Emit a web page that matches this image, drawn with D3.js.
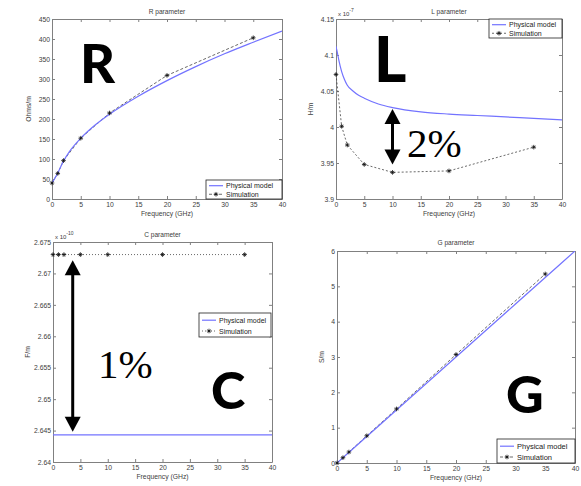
<!DOCTYPE html>
<html><head><meta charset="utf-8">
<script src="https://cdn.jsdelivr.net/npm/d3@7"></script>
<style>
body{margin:0;background:#fff}
svg{display:block}
text{font-family:"Liberation Sans",Arial,Helvetica,sans-serif}
</style>
</head><body>
<svg id="chart" width="581" height="486"></svg>
<script>
// ---------- data ----------
const xTicks = [0, 5, 10, 15, 20, 25, 30, 35, 40];
const simFreq = [0, 1, 2, 5, 10, 20, 35];

const rModelFreq = [0, 0.5, 1, 2, 3, 5, 7.5, 10, 15, 20, 25, 30, 35, 40];
const rModel = [40, 52, 65, 95, 118, 152, 185, 212, 257, 296, 331, 363, 392, 420];
const rSim = [40, 64, 96, 152, 215, 309, 403];
const rTicks = [0, 50, 100, 150, 200, 250, 300, 350, 400, 450];

const lModelFreq = [0, 0.25, 0.5, 1, 1.5, 2, 3, 4, 5, 7.5, 10, 15, 20, 25, 30, 35, 40];
const lModel = [4.112, 4.103, 4.093, 4.077, 4.066, 4.058, 4.050, 4.044, 4.040, 4.032, 4.027, 4.021, 4.018, 4.016, 4.014, 4.012, 4.010];
const lSim = [4.073, 4.001, 3.975, 3.948, 3.937, 3.939, 3.972];
const lTicks = [3.9, 3.95, 4, 4.05, 4.1, 4.15];

const cModelFreq = [0, 40];
const cModel = [2.6443, 2.6443];
const cSim = [2.673, 2.673, 2.673, 2.673, 2.673, 2.673, 2.673];
const cTicks = [2.64, 2.645, 2.65, 2.655, 2.66, 2.665, 2.67, 2.675];

const gModelFreq = [0, 5, 10, 15, 20, 25, 30, 35, 40];
const gModel = [0, 0.75, 1.5, 2.25, 3.0, 3.75, 4.5, 5.25, 6.0];
const gSim = [0, 0.15, 0.31, 0.77, 1.53, 3.07, 5.35];
const gTicks = [0, 1, 2, 3, 4, 5, 6];

const legendLabels = ["Physical model", "Simulation"];

// ---------- drawing ----------
const svg = d3.select("#chart");
const AXIS = "#808080", TXT = "#404040", BLUE = "#7373ff";
const fmt = v => String(+v.toFixed(4));

function star(s, cx, cy) {
  const a = 2.3, b = 1.5;
  s.append("path")
    .attr("d", `M${cx - a},${cy}H${cx + a}M${cx},${cy - a}V${cy + a}M${cx - b},${cy - b}L${cx + b},${cy + b}M${cx - b},${cy + b}L${cx + b},${cy - b}`)
    .attr("stroke", "#111").attr("stroke-width", 0.8).attr("fill", "none");
}

function arrow(g, x, y1, y2) {
  const hw = 8, hl = 15;
  g.append("line").attr("x1", x).attr("x2", x).attr("y1", y1 + hl - 2).attr("y2", y2 - hl + 2)
    .attr("stroke", "#000").attr("stroke-width", 3);
  g.append("path").attr("d", `M${x},${y1}L${x - hw},${y1 + hl}L${x + hw},${y1 + hl}Z`).attr("fill", "#000");
  g.append("path").attr("d", `M${x},${y2}L${x - hw},${y2 - hl}L${x + hw},${y2 - hl}Z`).attr("fill", "#000");
}

function panel(c) {
  const g = svg.append("g");
  const x = d3.scaleLinear().domain([0, 40]).range([c.l, c.r]);
  const y = d3.scaleLinear().domain([c.yTicks[0], c.yTicks[c.yTicks.length - 1]]).range([c.b, c.t]);

  g.append("rect").attr("x", c.l).attr("y", c.t).attr("width", c.r - c.l).attr("height", c.b - c.t)
    .attr("fill", "#fff");

  const styleAxis = sel => {
    sel.selectAll("path.domain").attr("stroke", AXIS).attr("stroke-width", 1);
    sel.selectAll(".tick line").attr("stroke", AXIS).attr("stroke-width", 1);
    sel.selectAll(".tick text").attr("fill", TXT).style("font-size", "6.8px")
      .style("font-family", '"Liberation Sans",Arial,sans-serif');
  };
  g.append("g").attr("transform", `translate(0,${c.b})`)
    .call(d3.axisBottom(x).tickValues(xTicks).tickFormat(fmt).tickSizeInner(-3).tickSizeOuter(0).tickPadding(3))
    .call(styleAxis);
  g.append("g").attr("transform", `translate(0,${c.t})`)
    .call(d3.axisTop(x).tickValues(xTicks).tickFormat("").tickSizeInner(-3).tickSizeOuter(0))
    .call(styleAxis);
  g.append("g").attr("transform", `translate(${c.l},0)`)
    .call(d3.axisLeft(y).tickValues(c.yTicks).tickFormat(fmt).tickSizeInner(-3).tickSizeOuter(0).tickPadding(2))
    .call(styleAxis);
  g.append("g").attr("transform", `translate(${c.r},0)`)
    .call(d3.axisRight(y).tickValues(c.yTicks).tickFormat("").tickSizeInner(-3).tickSizeOuter(0))
    .call(styleAxis);

  // title & labels
  g.append("text").attr("x", (c.l + c.r) / 2).attr("y", c.titleY).attr("text-anchor", "middle")
    .attr("fill", TXT).style("font-size", "6.6px").text(c.title);
  g.append("text").attr("x", (c.l + c.r) / 2).attr("y", c.b + 17).attr("text-anchor", "middle")
    .attr("fill", TXT).style("font-size", "6.8px").text("Frequency (GHz)");
  g.append("text").attr("transform", `translate(${c.yLabelX},${(c.t + c.b) / 2}) rotate(-90)`)
    .attr("text-anchor", "middle").attr("fill", TXT).style("font-size", "6.8px").text(c.yLabel);
  if (c.exp) {
    const e = g.append("text").attr("x", c.l + 2).attr("y", c.t - 3).attr("fill", TXT).style("font-size", "6px");
    e.append("tspan").text("x 10");
    e.append("tspan").attr("dy", -4).style("font-size", "5px").text(c.exp);
  }

  // clip
  const cid = "clip" + c.title[0];
  svg.append("clipPath").attr("id", cid).append("rect")
    .attr("x", c.l).attr("y", c.t).attr("width", c.r - c.l).attr("height", c.b - c.t);
  const plot = g.append("g").attr("clip-path", `url(#${cid})`);

  const line = d3.line().x(d => x(d[0])).y(d => y(d[1]));
  plot.append("path").datum(c.simF.map((f, i) => [f, c.sim[i]]))
    .attr("d", line).attr("fill", "none").attr("stroke", "#444").attr("stroke-width", 0.8)
    .attr("stroke-dasharray", c.dash);
  plot.append("path").datum(c.modelF.map((f, i) => [f, c.model[i]]))
    .attr("d", line.curve(d3.curveMonotoneX)).attr("fill", "none").attr("stroke", BLUE).attr("stroke-width", 1.2);
  const mk = g.append("g");
  c.simF.forEach((f, i) => star(mk, x(f), y(c.sim[i])));

  // legend
  const L = c.leg;
  const lg = g.append("g");
  lg.append("rect").attr("x", L.x).attr("y", L.y).attr("width", L.w).attr("height", L.h)
    .attr("fill", "#fff").attr("stroke", "#222").attr("stroke-width", 0.8);
  const r1 = L.y + L.h * 0.3, r2 = L.y + L.h * 0.75;
  lg.append("line").attr("x1", L.x + 3).attr("x2", L.x + 17).attr("y1", r1).attr("y2", r1)
    .attr("stroke", BLUE).attr("stroke-width", 1.2);
  lg.append("line").attr("x1", L.x + 3).attr("x2", L.x + 17).attr("y1", r2).attr("y2", r2)
    .attr("stroke", "#444").attr("stroke-width", 0.8).attr("stroke-dasharray", c.dash);
  star(lg, L.x + 10, r2);
  lg.append("text").attr("x", L.x + 20).attr("y", r1 + 2.5).attr("fill", "#222").style("font-size", L.fs + "px").text(legendLabels[0]);
  lg.append("text").attr("x", L.x + 20).attr("y", r2 + 2.5).attr("fill", "#222").style("font-size", L.fs + "px").text(legendLabels[1]);

  return {g, x, y};
}

const R = panel({l: 52, r: 282, t: 19, b: 199, yTicks: rTicks, title: "R parameter", titleY: 14, yLabel: "Ohms/m", yLabelX: 31,
  modelF: rModelFreq, model: rModel, simF: simFreq, sim: rSim, dash: "3,2",
  leg: {x: 206, y: 180, w: 76, h: 19, fs: 7}});
const Lp = panel({l: 336, r: 562, t: 19, b: 199, yTicks: lTicks, title: "L parameter", titleY: 14, yLabel: "H/m", yLabelX: 313, exp: "-7",
  modelF: lModelFreq, model: lModel, simF: simFreq, sim: lSim, dash: "2,2",
  leg: {x: 489, y: 19, w: 73, h: 19, fs: 7}});
const C = panel({l: 53, r: 272, t: 242, b: 462, yTicks: cTicks, title: "C parameter", titleY: 237, yLabel: "F/m", yLabelX: 30, exp: "-10",
  modelF: cModelFreq, model: cModel, simF: simFreq, sim: cSim, dash: "1,2",
  leg: {x: 199, y: 313, w: 72, h: 24, fs: 7}});
const G = panel({l: 337, r: 575, t: 251, b: 463, yTicks: gTicks, title: "G parameter", titleY: 245, yLabel: "S/m", yLabelX: 324,
  modelF: gModelFreq, model: gModel, simF: simFreq, sim: gSim, dash: "3,2",
  leg: {x: 497, y: 439, w: 78, h: 24, fs: 7.5}});

// annotations
arrow(svg, Lp.x(10), Lp.y(4.025), Lp.y(3.948));
arrow(svg, C.x(3.6), C.y(2.6721), C.y(2.6448));

const big = (t, x, yb, fs) => svg.append("text").attr("x", x).attr("y", yb).text(t)
  .style("font-family", "Lato, 'Open Sans', sans-serif").style("font-weight", 900).style("font-size", fs + "px").attr("fill", "#000");
big("R", 80, 83, 54);
big("L", 374, 82, 62);
big("C", 211, 409, 52);
big("G", 506, 413, 52);

const pct = (t, x, yb) => svg.append("text").attr("x", x).attr("y", yb).text(t)
  .style("font-family", "'Liberation Serif', 'Times New Roman', serif").style("font-size", "41px").attr("fill", "#000");
pct("2%", 407, 157);
pct("1%", 98, 378);
</script>
</body></html>
